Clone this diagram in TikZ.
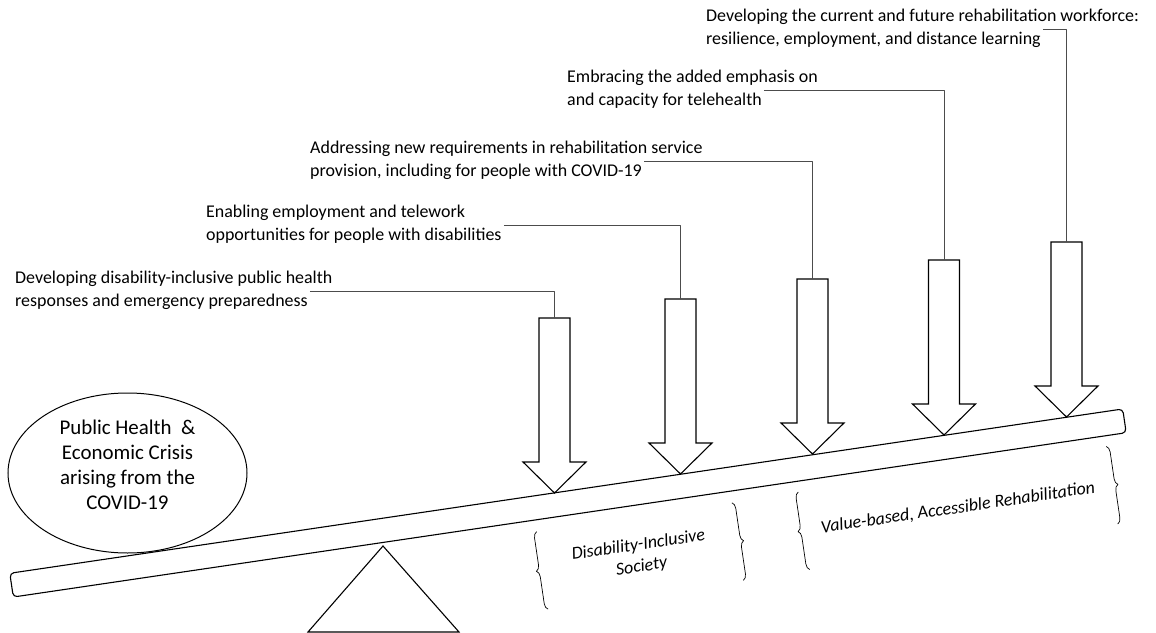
\documentclass[tikz,border=0pt]{standalone}
\usepackage{fontspec}
\setmainfont{Carlito}
\usetikzlibrary{positioning, shapes.geometric, decorations.pathreplacing}

\tikzset{
  lbl/.style={font=\fontsize{18}{21}\selectfont, inner xsep=2bp, inner ysep=2bp,
    text height=13bp, text depth=5bp, anchor=base west},
  lbl2/.style={lbl, below=0.5bp of #1.south west, anchor=north west},
  link/.style={draw=black!70, line width=0.8bp},
  blk/.style={draw, line width=1.1bp, line join=miter, fill=white},
  brc/.style={decorate, decoration={brace, amplitude=6bp}, line width=0.7bp},
  brcbox/.style={rotate=8.4, font=\fontsize{18}{22}\selectfont\itshape, align=center,
    minimum height=78bp, inner sep=0pt},
}

\begin{document}
\begin{tikzpicture}[x=1bp, y=-1bp, line join=bevel]
\useasboundingbox (0,0) rectangle (1156,633);
%%
  % Beam and fulcrum
  \node[draw, line width=1.1bp, rounded corners=4bp, rotate=8.4, minimum width=1125bp,
    minimum height=24bp, inner sep=0pt] (beam) at (568,503) {};
  \draw[line width=1.1bp, line join=miter] (383,546) -- (459,632) -- (308,632) -- cycle;
  % Crisis
  \node[draw, ellipse, line width=1bp, minimum width=239bp, minimum height=160bp, inner sep=0pt,
    align=center, font=\fontsize{21}{25}\selectfont] (crisis) at (127.5,473)
    {Public Health\ \ \&\\Economic Crisis\\arising from the\\COVID-19\\[-8bp]};
  % Arrow: 1
  \coordinate (arr1) at (554.5,318);
  \draw[blk] (arr1) -- ++(15.5,0) -- ++(0,144) -- ++(16,0) -- ++(-31.5,31) -- ++(-31.5,-31)
    -- ++(16,0) -- ++(0,-144) -- cycle;
  % Arrow: 2
  \coordinate (arr2) at (680.5,299);
  \draw[blk] (arr2) -- ++(15.5,0) -- ++(0,144) -- ++(16,0) -- ++(-31.5,31) -- ++(-31.5,-31)
    -- ++(16,0) -- ++(0,-144) -- cycle;
  % Arrow: 3
  \coordinate (arr3) at (812.5,279);
  \draw[blk] (arr3) -- ++(15.5,0) -- ++(0,144) -- ++(16,0) -- ++(-31.5,31) -- ++(-31.5,-31)
    -- ++(16,0) -- ++(0,-144) -- cycle;
  % Arrow: 4
  \coordinate (arr4) at (944,260);
  \draw[blk] (arr4) -- ++(15.5,0) -- ++(0,144) -- ++(16,0) -- ++(-31.5,31) -- ++(-31.5,-31)
    -- ++(16,0) -- ++(0,-144) -- cycle;
  % Arrow: 5
  \coordinate (arr5) at (1066.5,242);
  \draw[blk] (arr5) -- ++(15.5,0) -- ++(0,144) -- ++(16,0) -- ++(-31.5,31) -- ++(-31.5,-31)
    -- ++(16,0) -- ++(0,-144) -- cycle;
  % Label: 1
  \node[lbl] (lab1a) at (13,284) {Developing disability-inclusive public health};
  \node[lbl2=lab1a] (lab1b) {responses and emergency preparedness};
  \draw[link] (lab1b.north east) -| (arr1);
  % Label: 2
  \node[lbl] (lab2a) at (204,218) {Enabling employment and telework};
  \node[lbl2=lab2a] (lab2b) {opportunities for people with disabilities};
  \draw[link] (lab2b.north east) -| (arr2);
  % Label: 3
  \node[lbl] (lab3a) at (308,154) {Addressing new requirements in rehabilitation service};
  \node[lbl2=lab3a] (lab3b) {provision, including for people with COVID-19};
  \draw[link] (lab3b.north east) -| (arr3);
  % Label: 4
  \node[lbl] (lab4a) at (565,83) {Embracing the added emphasis on};
  \node[lbl2=lab4a] (lab4b) {and capacity for telehealth};
  \draw[link] (lab4b.north east) -| (arr4);
  % Label: 5
  \node[lbl] (lab5a) at (704,22) {Developing the current and future rehabilitation workforce:};
  \node[lbl2=lab5a] (lab5b) {resilience, employment, and distance learning};
  \draw[link] (lab5b.north east) -| (arr5);
  % Braces
  \node[brcbox, minimum width=197bp] (society) at (640,556) {Disability-Inclusive\\Society};
  \draw[brc] (society.south west) -- (society.north west);
  \draw[brc] (society.north east) -- (society.south east);
  \node[brcbox, minimum width=311bp] (rehab) at (958,508) {Value-based, Accessible Rehabilitation};
  \draw[brc] (rehab.south west) -- (rehab.north west);
  \draw[brc] (rehab.north east) -- (rehab.south east);
%
\end{tikzpicture}
\end{document}
